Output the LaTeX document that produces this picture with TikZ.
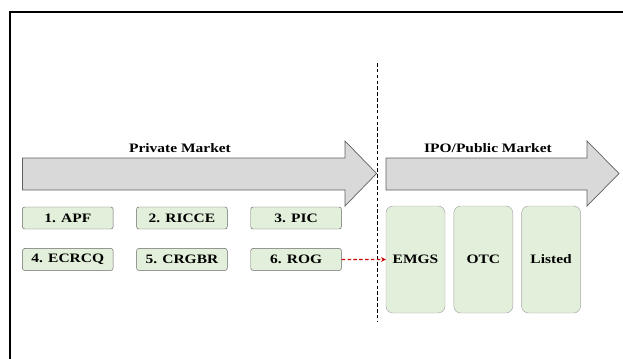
\documentclass[tikz,border=0pt]{standalone}
\usepackage{fontspec}
\setmainfont{Liberation Serif}[FakeStretch=1.2]
\usetikzlibrary{positioning,arrows.meta}
\definecolor{boxgreen}{HTML}{E2EFDA}
\definecolor{bandgray}{HTML}{D9D9D9}
\tikzstyle{stage} = [rectangle, rounded corners=2pt, minimum width=2.72cm, minimum height=0.66cm, text centered, draw=gray!80!black, fill=boxgreen, font=\fontsize{11}{13}\selectfont\bfseries]
\tikzstyle{venue} = [rectangle, rounded corners=6pt, minimum width=1.77cm, minimum height=3.21cm, text centered, draw=gray!70, fill=boxgreen, font=\fontsize{11}{13}\selectfont\bfseries]
\tikzstyle{band} = [draw=gray!75!black, fill=bandgray, line width=0.6pt]
\tikzstyle{lbl} = [font=\fontsize{11}{13}\selectfont\bfseries]
\tikzstyle{arrow} = [red!80!black, densely dashed, line width=1pt, -{Stealth[length=4pt,width=4pt]}]

\begin{document}
\begin{tikzpicture}[x=0.03cm, y=-0.03cm]
\clip (0,0) rectangle (623,358);

% outer frame
\draw[line width=1.2pt] (10,380) |- (640,12);

% the two market bands
\draw[band] (22.6,158) -- (345,158) -- (345,141) -- (376.6,173.5) -- (345,206) -- (345,190) -- (22.6,190) -- cycle;
\draw[band] (386,158) -- (587,158) -- (587,141) -- (619,173.5) -- (587,206) -- (587,190) -- (386,190) -- cycle;
\node (privlbl) [lbl] at (180,148) {Private Market};
\node (publbl) [lbl] at (488,148) {IPO/Public Market};

% divider
\coordinate (divtop) at (377,63);
\coordinate (divbot) at (377,322);
\draw[densely dashed, line width=0.8pt] (divtop) -- (divbot);

% private market stages
\node (pm1) [stage] at (67.8,218) {1. APF};
\node (pm2) [stage, right=0.69cm of pm1] {2. RICCE};
\node (pm3) [stage, right=0.69cm of pm2] {3. PIC};
\node (pm4) [stage, below=0.57cm of pm1] {4. ECRCQ};
\node (pm5) [stage, below=0.57cm of pm2] {5. CRGBR};
\node (pm6) [stage, below=0.57cm of pm3] {6. ROG};

% public market venues
\node (emgs) [venue] at (415.5,259.5) {EMGS};
\node (otc) [venue, right=0.25cm of emgs] {OTC};
\node (listed) [venue, right=0.25cm of otc] {Listed};

\draw [arrow] (pm6) -- (emgs);

\end{tikzpicture}
\end{document}
